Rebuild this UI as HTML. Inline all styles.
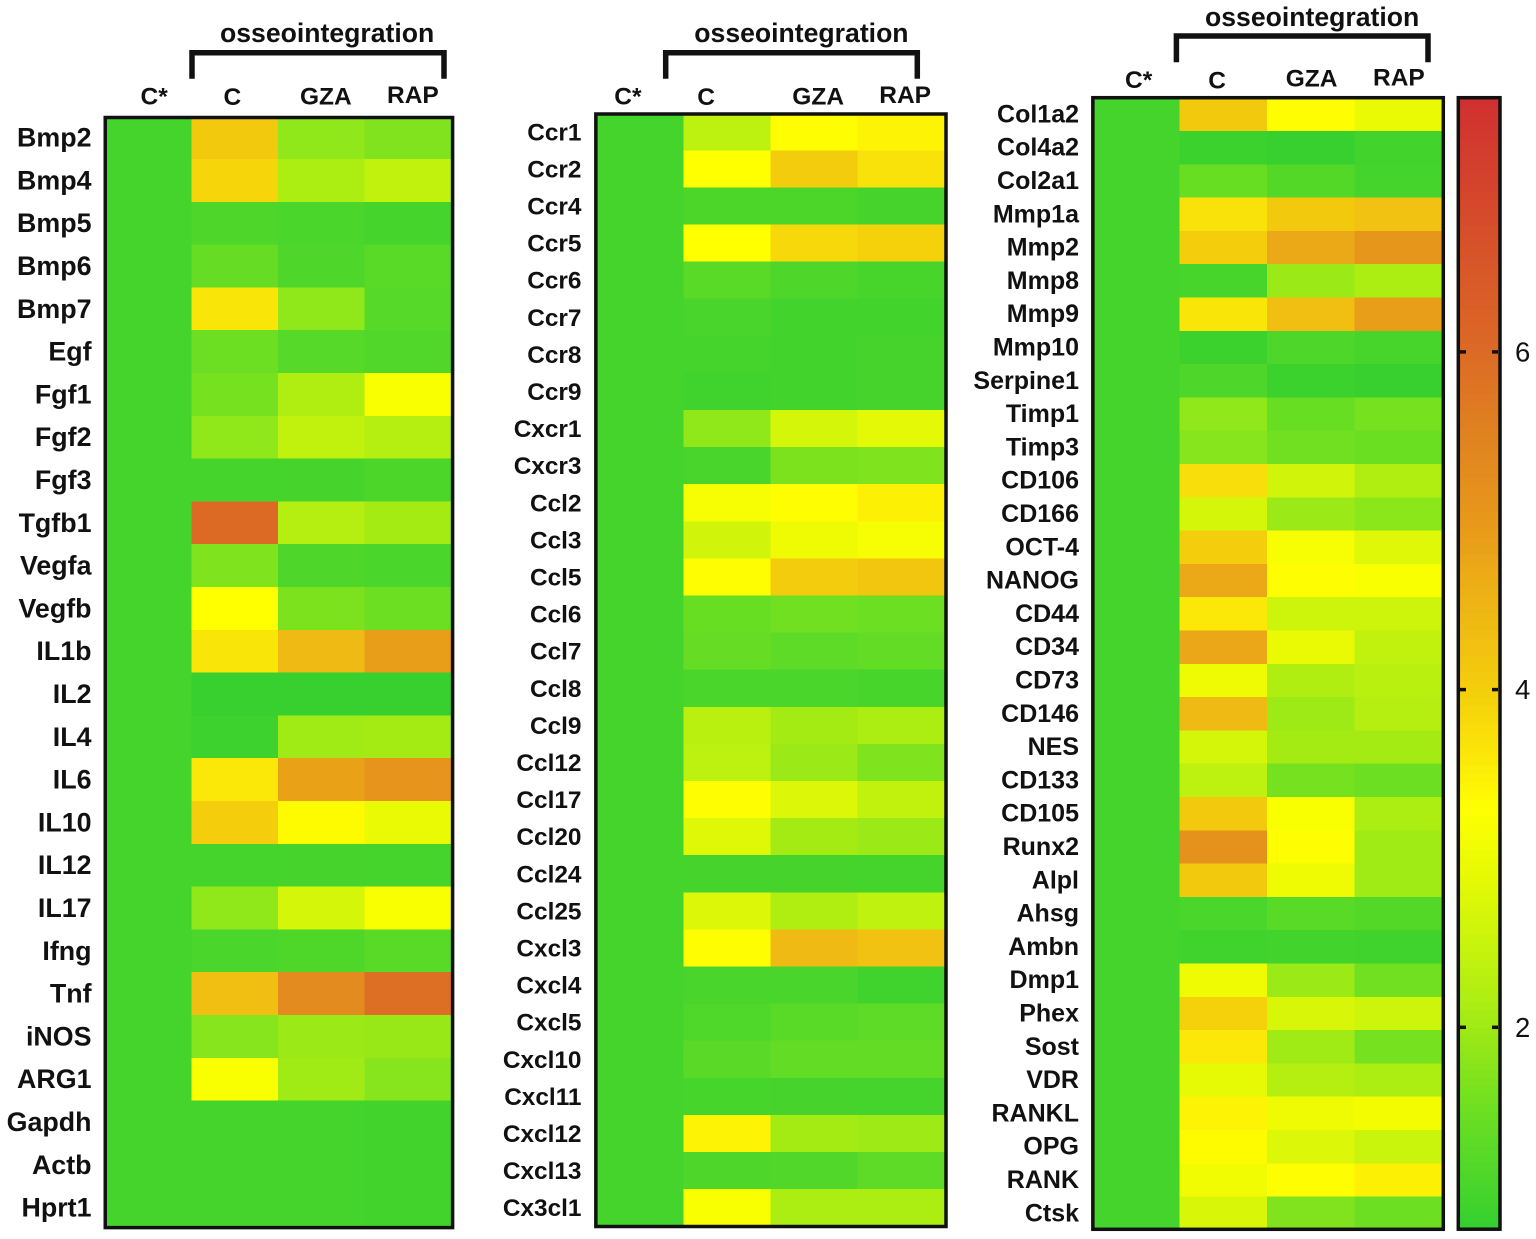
<!DOCTYPE html>
<html lang="en">
<head>
<meta charset="utf-8">
<title>Osseointegration gene expression heatmaps</title>
<style>
html,body{margin:0;padding:0;background:#fff;}
svg{display:block;font-family:"Liberation Sans",Arial,sans-serif;}
text{fill:#111;}
</style>
</head>
<body>
<svg id="figure" xmlns="http://www.w3.org/2000/svg" width="1536" height="1239" viewBox="0 0 1536 1239"></svg>
<script>
/* ---------- data ---------- */
const groupNames = ["C*", "C", "GZA", "RAP"];

const genesA = ["Bmp2","Bmp4","Bmp5","Bmp6","Bmp7","Egf","Fgf1","Fgf2","Fgf3","Tgfb1","Vegfa","Vegfb","IL1b","IL2","IL4","IL6","IL10","IL12","IL17","Ifng","Tnf","iNOS","ARG1","Gapdh","Actb","Hprt1"];
const controlA = [1,1,1,1,1,1,1,1,1,1,1,1,1,1,1,1,1,1,1,1,1,1,1,1,1,1];
const osseoCA = [4.1,3.9,1.12,1.42,3.65,1.5,1.6,1.85,1.0,6.0,1.68,3.3,3.65,0.85,0.92,3.6,4.0,1.0,1.85,1.07,4.3,1.75,3.2,1,1,1];
const gzaA = [1.85,2.15,1.08,1.12,1.85,1.22,2.2,2.4,1.02,2.25,1.12,1.65,4.4,0.85,2.0,4.85,3.35,1.02,2.65,1.13,5.3,1.95,2.0,1,1,1];
const rapA = [1.7,2.4,1.0,1.25,1.22,1.15,3.2,2.25,1.1,2.05,1.07,1.5,4.9,0.85,2.05,5.1,2.95,1.0,3.2,1.25,5.9,1.92,1.75,0.98,0.98,0.98];

const genesB = ["Ccr1","Ccr2","Ccr4","Ccr5","Ccr6","Ccr7","Ccr8","Ccr9","Cxcr1","Cxcr3","Ccl2","Ccl3","Ccl5","Ccl6","Ccl7","Ccl8","Ccl9","Ccl12","Ccl17","Ccl20","Ccl24","Ccl25","Cxcl3","Cxcl4","Cxcl5","Cxcl10","Cxcl11","Cxcl12","Cxcl13","Cx3cl1"];
const controlB = [1,1,1,1,1,1,1,1,1,1,1,1,1,1,1,1,1,1,1,1,1,1,1,1,1,1,1,1,1,1];
const osseoCB = [2.35,3.3,1.1,3.3,1.25,1.06,1.0,0.96,1.85,1.06,3.15,2.6,3.32,1.45,1.42,1.08,2.3,2.35,3.32,2.8,1.02,2.75,3.32,1.06,1.14,1.27,1.03,3.45,1.12,3.2];
const gzaB = [3.33,4.05,1.1,3.85,1.12,0.98,0.98,0.98,2.65,1.65,3.33,3.0,4.05,1.55,1.32,1.08,2.05,1.95,2.75,2.05,1.02,2.2,4.4,1.06,1.25,1.38,1.02,2.05,1.15,2.15];
const rapB = [3.45,3.7,1.02,3.95,1.05,0.98,1.02,1.02,2.85,1.68,3.5,3.15,4.15,1.5,1.38,1.04,2.15,1.68,2.4,1.95,1.0,2.38,4.25,0.95,1.32,1.38,1.0,1.98,1.32,2.15];

const genesC = ["Col1a2","Col4a2","Col2a1","Mmp1a","Mmp2","Mmp8","Mmp9","Mmp10","Serpine1","Timp1","Timp3","CD106","CD166","OCT-4","NANOG","CD44","CD34","CD73","CD146","NES","CD133","CD105","Runx2","Alpl","Ahsg","Ambn","Dmp1","Phex","Sost","VDR","RANKL","OPG","RANK","Ctsk"];
const controlC = [1,1,1,1,1,1,1,1,1,1,1,1,1,1,1,1,1,1,1,1,1,1,1,1,1,1,1,1,1,1,1,1,1,1];
const osseoCC = [4.1,0.9,1.45,3.7,4.0,1.05,3.65,0.9,1.12,1.85,1.75,3.75,2.65,4.0,4.7,3.6,4.75,3.0,4.4,2.65,2.35,4.1,5.15,4.1,1.07,0.96,3.0,3.95,3.6,2.9,3.45,3.35,3.05,2.7];
const gzaC = [3.33,0.85,1.2,4.1,4.7,1.95,4.3,1.12,0.9,1.45,1.55,2.6,1.95,3.15,3.32,2.55,2.95,2.2,1.98,2.05,1.6,3.2,3.33,3.0,1.25,0.98,1.95,2.7,2.0,2.25,3.0,2.75,3.33,1.7];
const rapC = [2.95,0.98,1.0,4.25,5.05,2.15,4.9,1.05,0.85,1.6,1.48,2.2,1.8,2.8,3.2,2.55,2.4,2.3,2.25,2.05,1.5,2.15,2.0,2.0,1.2,0.96,1.55,2.55,1.6,2.15,3.1,2.5,3.5,1.5];

const scaleValues = [0.8,1.0,1.5,2.0,2.5,3.0,3.3,3.6,4.0,4.5,5.0,5.5,6.0,7.5];
const scaleColors = ["#33cf30","#44d42c","#6cdf22","#a0ea15","#c9f40c","#eefb03","#ffff00","#fbe808","#f4ce0c","#eeb515","#e7981a","#e08320","#dc6a25","#d03030"];
const colorbarTicks = [2,4,6];

/* ---------- helpers ---------- */
const NS = "http://www.w3.org/2000/svg";
const root = document.getElementById("figure");

function hexToRgb(h){return [parseInt(h.slice(1,3),16),parseInt(h.slice(3,5),16),parseInt(h.slice(5,7),16)];}
function colorFor(v){
  if(v<=scaleValues[0]) return scaleColors[0];
  for(let i=1;i<scaleValues.length;i++){
    if(v<=scaleValues[i]){
      const t=(v-scaleValues[i-1])/(scaleValues[i]-scaleValues[i-1]);
      const a=hexToRgb(scaleColors[i-1]),b=hexToRgb(scaleColors[i]);
      return "rgb("+a.map((c,k)=>Math.round(c+(b[k]-c)*t)).join(",")+")";
    }
  }
  return scaleColors[scaleColors.length-1];
}
function make(tag,attrs,parent){
  const el=document.createElementNS(NS,tag);
  for(const k in attrs) el.setAttribute(k,attrs[k]);
  (parent||root).appendChild(el);
  return el;
}

/* ---------- one heatmap panel ---------- */
function drawPanel(cfg){
  const g=make("g",{});
  
  
  const xBand=i=>cfg.x0+i*cfg.colW;
  const yBand=i=>cfg.y0+i*cfg.rowH;

  cfg.genes.forEach((gene,r)=>{
    cfg.series.forEach((values,c)=>{
      const cell=make("rect",{x:xBand(c),y:yBand(r),width:cfg.colW,height:cfg.rowH,fill:colorFor(values[r]),"shape-rendering":"crispEdges"},g);
      
      
    });
    const label=make("text",{x:cfg.labelX,y:yBand(r)+cfg.rowH/2+cfg.labelDy,"text-anchor":"end","font-size":cfg.labelSize,"font-weight":"bold"},g);
    label.textContent=gene;
    
    
  });

  const f=cfg.frame;
  const frame=make("rect",{x:f[0],y:f[1],width:f[2]-f[0],height:f[3]-f[1],fill:"none",stroke:"#111","stroke-width":3.5},g);
  
  

  const b=cfg.bracket;
  const bracket=make("path",{d:"M"+b.l+" "+b.bottom+"V"+b.top+"H"+b.r+"V"+b.bottom,fill:"none",stroke:"#111","stroke-width":5.5},g);
  
  

  const title=make("text",{x:cfg.titleX,y:cfg.titleY,"font-size":26.6,"font-weight":"bold"},g);
  title.textContent="osseointegration";
  
  

  groupNames.forEach((name,i)=>{
    const h=make("text",{x:cfg.headX[i],y:cfg.headY[i],"font-size":24.5,"font-weight":"bold"},g);
    h.textContent=name;
    
    
  });
}

drawPanel({id:"growth-factors",genes:genesA,series:[controlA,osseoCA,gzaA,rapA],
  x0:105,colW:86.5,y0:116.2,rowH:42.8,labelX:91.5,labelDy:9,labelSize:26.8,
  frame:[105.25,117.5,452.6,1227.6],
  bracket:{l:192,r:444,top:52.7,bottom:78.7},
  titleX:220,titleY:42,
  headX:[140.5,223.5,300,387],headY:[104.3,105,104.3,103]});

drawPanel({id:"chemokines",genes:genesB,series:[controlB,osseoCB,gzaB,rapB],
  x0:596.3,colW:87,y0:113.2,rowH:37.1,labelX:581.5,labelDy:8.5,labelSize:24.4,
  frame:[595.85,114,946,1226.5],
  bracket:{l:665.7,r:917.3,top:52.7,bottom:78.7},
  titleX:694.3,titleY:42,
  headX:[614.3,697.3,792.3,879.3],headY:[104.3,105,104.3,103]});

drawPanel({id:"bone-markers",genes:genesC,series:[controlC,osseoCC,gzaC,rapC],
  x0:1092.4,colW:87.3,y0:97.7,rowH:33.3,labelX:1079,labelDy:8,labelSize:25,
  frame:[1092.85,97.7,1443.3,1229.3],
  bracket:{l:1176.4,r:1428,top:36,bottom:62.3},
  titleX:1205,titleY:26,
  headX:[1125,1208.3,1285.7,1373],headY:[88,88.7,86.7,85.3]});

/* ---------- colour bar ---------- */
const yScale=v=>1027.3-(v-2)*168.85;
const barGroup=make("g",{});


const barMax=scaleValues[scaleValues.length-1], barMin=scaleValues[0];
for(let v=barMax;v>barMin+1e-6;v-=0.05){
  const band=make("rect",{x:1459,y:yScale(v),width:40,height:yScale(v-0.05)-yScale(v)+0.5,fill:colorFor(v-0.025),"shape-rendering":"crispEdges"},barGroup);
  
  
}
const barFrame=make("rect",{x:1458.3,y:97.7,width:41.7,height:1131.5,fill:"none",stroke:"#111","stroke-width":3.5},barGroup);


colorbarTicks.forEach(t=>{
  const left=make("line",{x1:1460,x2:1466,y1:yScale(t),y2:yScale(t),stroke:"#111","stroke-width":3.5},barGroup);
  
  
  const right=make("line",{x1:1492,x2:1498,y1:yScale(t),y2:yScale(t),stroke:"#111","stroke-width":3.5},barGroup);
  
  
  const lab=make("text",{x:1515,y:yScale(t)+9.5,"font-size":27.5},barGroup);
  lab.textContent=String(t);
  
  
});
</script>
</body>
</html>
